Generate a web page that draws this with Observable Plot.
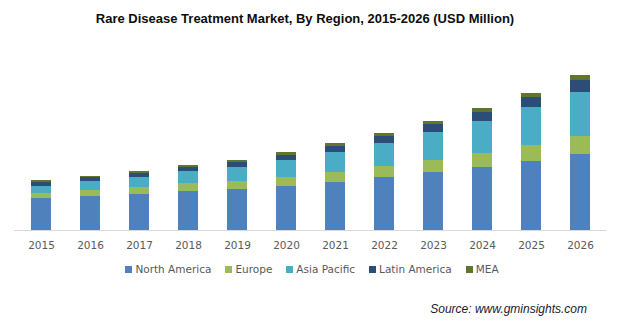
<!DOCTYPE html>
<html>
<head>
<meta charset="utf-8">
<script src="https://cdn.jsdelivr.net/npm/d3@7"></script>
<script src="https://cdn.jsdelivr.net/npm/@observablehq/plot@0.6"></script>
<style>
  html, body { margin: 0; padding: 0; background: #fff; }
  #wrap { position: relative; width: 620px; height: 326px; overflow: hidden; }
  #title { position: absolute; left: 0; width: 610px; top: 11px; text-align: center;
    font: bold 13px "Liberation Sans", Arial, sans-serif; color: #0d0d0d; white-space: nowrap; }
  #chart { position: absolute; left: 0; top: 40px; }
  #legend { position: absolute; left: 0; width: 624px; top: 263px; display: flex; justify-content: center;
    font: 10.5px "DejaVu Sans", Verdana, sans-serif; color: #595959; white-space: nowrap; }
  #legend .item { display: flex; align-items: center; margin: 0 7px; }
  #legend .sw { width: 7px; height: 7px; margin-right: 3px; }
  #source { position: absolute; right: 33px; top: 302px; font: italic 12px "Liberation Sans", Arial, sans-serif;
    color: #1a1a2e; white-space: nowrap; }
</style>
</head>
<body>
<div id="wrap">
  <div id="title">Rare Disease Treatment Market, By Region, 2015-2026 (USD Million)</div>
  <div id="chart"></div>
  <div id="legend"></div>
  <div id="source">Source: www.gminsights.com</div>
</div>
<script>
const years = ["2015","2016","2017","2018","2019","2020","2021","2022","2023","2024","2025","2026"];
const regions = ["North America","Europe","Asia Pacific","Latin America","MEA"];
const colors = ["#4F81BD","#9BBB59","#4BACC6","#2C4D75","#5F7530"];
const northAmerica = [32,34,36,39,41,44,48,53,58,63,69,76];
const europe       = [5,6,7,8,8,9,10,11,12,14,16,18];
const asiaPacific  = [7,9,10,12,14,17,20,23,28,32,38,44];
const latinAmerica = [4,4,4,4,5,5,6,7,8,9,10,12];
const mea          = [2,1,2,2,2,3,3,3,3,4,4,5];

const series = [northAmerica, europe, asiaPacific, latinAmerica, mea];
const data = [];
years.forEach((y, i) => {
  regions.forEach((r, j) => data.push({year: y, region: r, value: series[j][i]}));
});

const chart = Plot.plot({
  width: 620,
  height: 220,
  marginLeft: 14,
  marginRight: 14,
  marginTop: 0,
  marginBottom: 30,
  style: {fontFamily: "'DejaVu Sans', Verdana, sans-serif", fontSize: "10.5px", color: "#595959", background: "#fff"},
  x: {domain: years, paddingInner: 0.6, paddingOuter: 0.3, label: null, tickSize: 0, tickPadding: 11},
  y: {domain: [0, 190], axis: null},
  color: {domain: regions, range: colors},
  marks: [
    Plot.barY(data, {x: "year", y: "value", fill: "region", order: regions}),
    Plot.ruleY([0], {stroke: "#D9D9D9", strokeWidth: 1})
  ]
});
document.getElementById("chart").appendChild(chart);

const legend = document.getElementById("legend");
regions.forEach((r, i) => {
  const item = document.createElement("div");
  item.className = "item";
  const sw = document.createElement("span");
  sw.className = "sw";
  sw.style.background = colors[i];
  const t = document.createElement("span");
  t.textContent = r;
  item.appendChild(sw);
  item.appendChild(t);
  legend.appendChild(item);
});
</script>
</body>
</html>
